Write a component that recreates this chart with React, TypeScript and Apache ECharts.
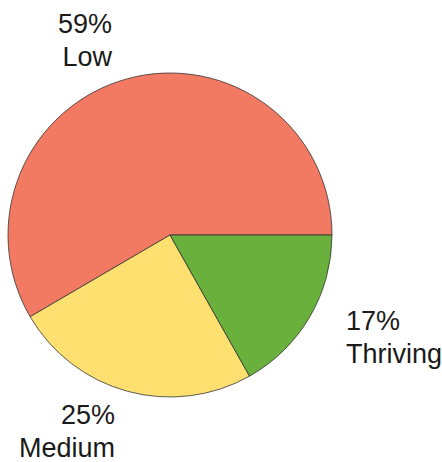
import React, { useEffect, useRef } from "react";
import * as echarts from "echarts";

const categories = ["Low", "Medium", "Thriving"];
const values = [59, 25, 17];
const colors = ["#F27A62", "#FDE070", "#69B03D"];

export default function App() {
  const ref = useRef<HTMLDivElement>(null);
  useEffect(() => {
    if (!ref.current) return;
    const chart = echarts.init(ref.current, null, { renderer: "svg" });
    const labelPos = [
      { x: 112, y: 40, align: "right" },
      { x: 115, y: 431, align: "right" },
      { x: 346, y: 337, align: "left" },
    ];
    chart.setOption({
      animation: false,
      backgroundColor: "#ffffff",
      series: [
        {
          type: "pie",
          center: [170, 235],
          radius: 162,
          startAngle: 0,
          clockwise: false,
          avoidLabelOverlap: false,
          data: categories.map((name, i) => ({
            name,
            value: values[i],
            itemStyle: { color: colors[i] },
          })),
          itemStyle: { borderColor: "#333333", borderWidth: 0.8 },
          label: {
            show: true,
            position: "outside",
            formatter: "{c}%\n{b}",
            fontFamily: "Liberation Sans, Arial, sans-serif",
            fontSize: 27,
            lineHeight: 33,
            color: "#1a1a1a",
          },
          labelLine: { show: false },
          labelLayout: (params: any) => {
            const p = labelPos[params.dataIndex];
            return { x: p.x, y: p.y, align: p.align, verticalAlign: "middle" };
          },
          emphasis: { disabled: true },
        },
      ],
    });
    return () => chart.dispose();
  }, []);
  return (
    <div
      ref={ref}
      style={{ position: "fixed", left: 0, top: 0, width: 442, height: 462 }}
    />
  );
}
